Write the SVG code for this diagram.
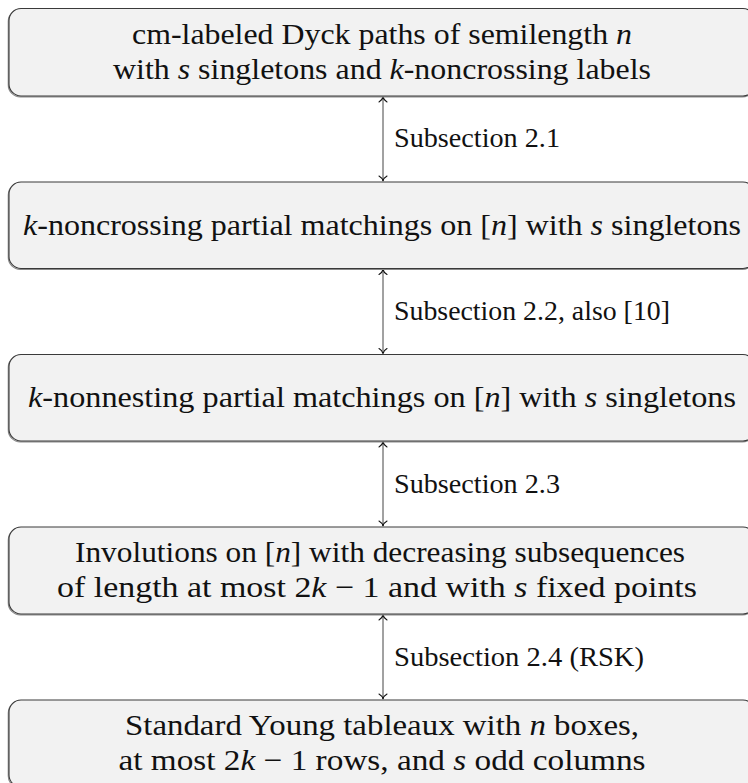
<svg xmlns="http://www.w3.org/2000/svg" width="748" height="783" viewBox="0 0 748 783">
<defs>
<style>
.box{fill:#f2f2f2;stroke:#3a3a3a;stroke-width:1.1}
.sh{fill:none;stroke:#8a8a8a;stroke-width:1.2}
.t{font-family:"Liberation Serif",serif;font-size:29.3px;fill:#111;text-anchor:middle}
.l{font-family:"Liberation Serif",serif;font-size:26.4px;fill:#111}
.m{font-style:italic}
.c{stroke:#444;stroke-width:1;fill:none;marker-start:url(#tip);marker-end:url(#tip)}
</style>
<marker id="tip" viewBox="-7 -6 8 12" refX="0" refY="0" markerWidth="8" markerHeight="12" markerUnits="userSpaceOnUse" orient="auto-start-reverse">
<path d="M -5,-4 C -3.6,-1.5 -1.4,-0.35 0,0 C -1.4,0.35 -3.6,1.5 -5,4" fill="none" stroke="#111" stroke-width="1.1" stroke-linecap="round"/>
</marker>
</defs>
<rect width="748" height="783" fill="#ffffff"/>

<g id="connectors">
<line class="c" x1="383" y1="97" x2="383" y2="181"/>
<line class="c" x1="383" y1="269.5" x2="383" y2="353.5"/>
<line class="c" x1="383" y1="442" x2="383" y2="526"/>
<line class="c" x1="383" y1="615" x2="383" y2="699"/>
<text class="l" x="394" y="147" textLength="166" lengthAdjust="spacingAndGlyphs">Subsection 2.1</text>
<text class="l" x="394" y="320" textLength="276" lengthAdjust="spacingAndGlyphs">Subsection 2.2, also [10]</text>
<text class="l" x="394" y="492.5" textLength="166" lengthAdjust="spacingAndGlyphs">Subsection 2.3</text>
<text class="l" x="394" y="665.5" textLength="250" lengthAdjust="spacingAndGlyphs">Subsection 2.4 (RSK)</text>
</g>

<g id="node1">
<rect class="sh" x="8.3" y="9.4" width="746" height="87.5" rx="12" ry="12"/>
<rect class="box" x="9" y="8.5" width="746" height="87.5" rx="12" ry="12"/>
<text class="t" x="382" y="44" textLength="500" lengthAdjust="spacingAndGlyphs">cm-labeled Dyck paths of semilength <tspan class="m">n</tspan></text>
<text class="t" x="382" y="79" textLength="538" lengthAdjust="spacingAndGlyphs">with <tspan class="m">s</tspan> singletons and <tspan class="m">k</tspan>-noncrossing labels</text>
</g>

<g id="node2">
<rect class="sh" x="8.3" y="182.9" width="746" height="86.5" rx="12" ry="12"/>
<rect class="box" x="9" y="182" width="746" height="86.5" rx="12" ry="12"/>
<text class="t" x="382" y="234.5" textLength="718" lengthAdjust="spacingAndGlyphs"><tspan class="m">k</tspan>-noncrossing partial matchings on [<tspan class="m">n</tspan>] with <tspan class="m">s</tspan> singletons</text>
</g>

<g id="node3">
<rect class="sh" x="8.3" y="355.4" width="746" height="86.5" rx="12" ry="12"/>
<rect class="box" x="9" y="354.5" width="746" height="86.5" rx="12" ry="12"/>
<text class="t" x="382" y="407" textLength="708" lengthAdjust="spacingAndGlyphs"><tspan class="m">k</tspan>-nonnesting partial matchings on [<tspan class="m">n</tspan>] with <tspan class="m">s</tspan> singletons</text>
</g>

<g id="node4">
<rect class="sh" x="8.3" y="527.9" width="746" height="87" rx="12" ry="12"/>
<rect class="box" x="9" y="527" width="746" height="87" rx="12" ry="12"/>
<text class="t" x="380" y="562" textLength="610" lengthAdjust="spacingAndGlyphs">Involutions on [<tspan class="m">n</tspan>] with decreasing subsequences</text>
<text class="t" x="377" y="597" textLength="640" lengthAdjust="spacingAndGlyphs">of length at most 2<tspan class="m">k</tspan> − 1 and with <tspan class="m">s</tspan> fixed points</text>
</g>

<g id="node5">
<rect class="sh" x="8.3" y="700.9" width="746" height="87" rx="12" ry="12"/>
<rect class="box" x="9" y="700" width="746" height="87" rx="12" ry="12"/>
<text class="t" x="382" y="735" textLength="514" lengthAdjust="spacingAndGlyphs">Standard Young tableaux with <tspan class="m">n</tspan> boxes,</text>
<text class="t" x="382" y="770" textLength="527" lengthAdjust="spacingAndGlyphs">at most 2<tspan class="m">k</tspan> − 1 rows, and <tspan class="m">s</tspan> odd columns</text>
</g>
</svg>
